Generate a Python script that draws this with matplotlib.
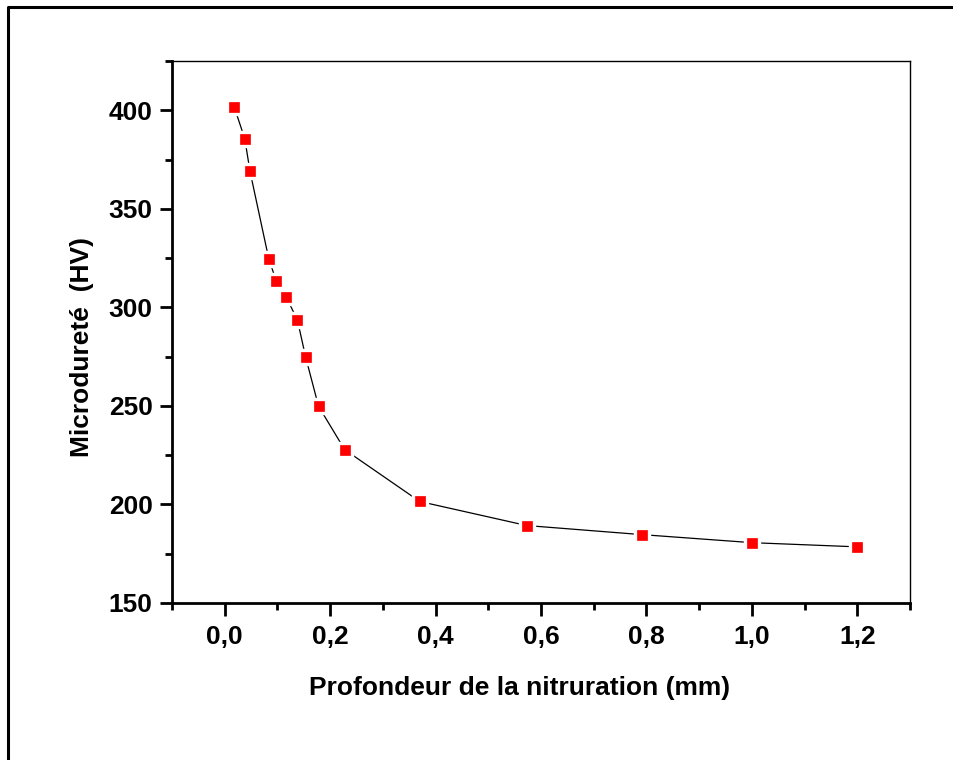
import matplotlib
matplotlib.use("Agg")
import matplotlib.pyplot as plt
from matplotlib.ticker import MultipleLocator, FuncFormatter
from matplotlib.lines import Line2D

plt.rcParams['font.family'] = ['Liberation Sans', 'DejaVu Sans']

depth = [0.018, 0.038, 0.048, 0.0835, 0.098, 0.117, 0.138, 0.1536, 0.178, 0.2276,
         0.370, 0.573, 0.791, 1.001, 1.199]
hardness = [401.7, 385.6, 369.0, 324.7, 313.2, 305.1, 293.5, 274.7, 249.8, 227.8,
            201.5, 189.3, 184.7, 180.6, 178.5]

xticks = [0.0, 0.2, 0.4, 0.6, 0.8, 1.0, 1.2]
xlabel = "Profondeur de la nitruration (mm)"
ylabel = "Microdureté  (HV)"

W, H = 954, 760
fig = plt.figure(figsize=(W / 100, H / 100), dpi=100)
ax = fig.add_axes([172 / W, 1 - 603 / H, (910 - 172) / W, (603 - 61) / H])

ax.plot(depth, hardness, color='black', lw=0.9, zorder=2)
ax.plot(depth, hardness, ls='none', marker='s', ms=11, mfc='white', mec='white', zorder=3)
ax.plot(depth, hardness, ls='none', marker='s', ms=7.3, mfc='#ff0000', mec='#ff0000', mew=0.5, zorder=4)

ax.set_xlim(-0.1, 1.3)
ax.set_ylim(150, 425)
ax.set_xticks(xticks)
ax.xaxis.set_minor_locator(MultipleLocator(0.1))
ax.yaxis.set_major_locator(MultipleLocator(50))
ax.yaxis.set_minor_locator(MultipleLocator(25))
ax.xaxis.set_major_formatter(FuncFormatter(lambda v, p: f"{v:.1f}".replace('.', ',')))
ax.yaxis.set_major_formatter(FuncFormatter(lambda v, p: f"{v:.0f}"))

ax.tick_params(axis='both', which='major', direction='out', length=9, width=2, labelsize=19)
ax.tick_params(axis='x', which='major', pad=6.5)
ax.tick_params(axis='y', which='major', pad=5)
ax.tick_params(axis='both', which='minor', direction='out', length=5, width=2)
ax.tick_params(top=False, right=False, which='both')
for lab in ax.get_xticklabels() + ax.get_yticklabels():
    lab.set_fontweight('bold')

ax.spines['left'].set_linewidth(2)
ax.spines['bottom'].set_linewidth(2)
ax.spines['top'].set_linewidth(1)
ax.spines['right'].set_linewidth(1)

fig.text(520 / W, 1 - 688 / H, xlabel, ha='center', va='center', fontsize=19, fontweight='bold')
fig.text(82 / W, 1 - 347 / H, ylabel, ha='center', va='center', rotation=90, fontsize=19, fontweight='bold')

frame = Line2D([8.5 / W, 8.5 / W, 1.0], [0.0, 1 - 7 / H, 1 - 7 / H], transform=fig.transFigure,
               color='black', lw=2.2)
fig.add_artist(frame)

fig.savefig('out.png', dpi=100)
